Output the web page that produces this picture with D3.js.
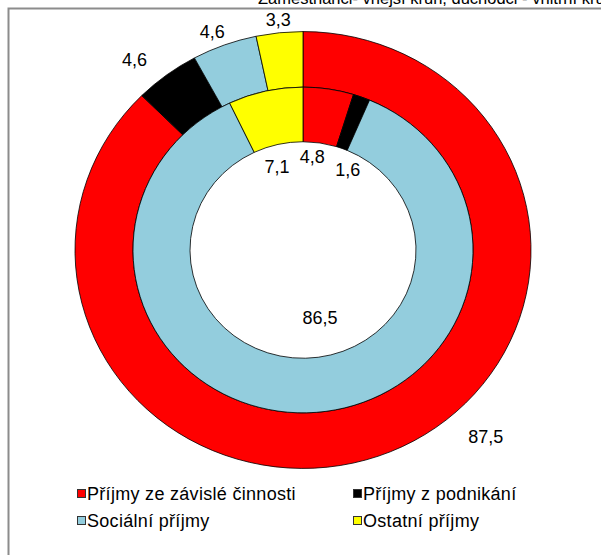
<!DOCTYPE html>
<html lang="cs">
<head>
<meta charset="UTF-8">
<title>Zaměstnanci- vnější kruh, důchodci - vnitřní kruh</title>
<script src="https://d3js.org/d3.v7.min.js"></script>
<style>
  body { margin: 0; background: #fff; }
  text { font-family: "Liberation Sans", Arial, sans-serif; fill: #000; }
</style>
</head>
<body>
<svg id="chart"></svg>
<script>
// data
const title = "Zaměstnanci- vnější kruh, důchodci - vnitřní kruh";
const categories = ["Příjmy ze závislé činnosti", "Příjmy z podnikání", "Sociální příjmy", "Ostatní příjmy"];
const outerValues = [87.5, 4.6, 4.6, 3.3];   // zaměstnanci
const innerValues = [4.8, 1.6, 86.5, 7.1];   // důchodci
const colors = ["#ff0000", "#000000", "#93cddd", "#ffff00"];

// layout
const W = 601, H = 555;
const cx = 303, cy = 250;
const squash = 0.958;           // chart is drawn slightly flattened
const rOuter = 228, rMid = 170, rHole = 113;
const fontSize = 18;
// label tweaks (Excel moved some labels around)
const outerNudge = [[91, -25], [-25, -6], [-8, -2], [0, -1]];
const innerNudge = [[-5, -3], [12, 5], [15, -23], [-5, 6]];

const fmt = v => d3.format(".1f")(v).replace(".", ",");

const svg = d3.select("#chart").attr("width", W).attr("height", H);

// plot frame (only top & left visible)
svg.append("rect")
  .attr("x", 8.5).attr("y", 8.5)
  .attr("width", 800).attr("height", 800)
  .attr("fill", "none").attr("stroke", "#8c8c8c").attr("stroke-width", 2);

// title, cut off at the top
svg.append("text")
  .attr("x", 258).attr("y", 4)
  .attr("font-size", 16.5)
  .text(title);

const pie = d3.pie().sort(null).value(d => d);
const color = d3.scaleOrdinal().domain(d3.range(categories.length)).range(colors);

const g = svg.append("g").attr("transform", `translate(${cx},${cy}) scale(1,${squash})`);

function ring(values, r0, r1) {
  const arc = d3.arc().innerRadius(r0).outerRadius(r1);
  g.append("g").selectAll("path")
    .data(pie(values))
    .join("path")
    .attr("d", arc)
    .attr("fill", (d, i) => color(i))
    .attr("stroke", "#000")
    .attr("stroke-width", 0.8)
    .attr("vector-effect", "non-scaling-stroke");
  return pie(values);
}

const outerArcs = ring(outerValues, rMid, rOuter);
const innerArcs = ring(innerValues, rHole, rMid);

function labels(arcs, r, nudge) {
  svg.append("g").selectAll("text")
    .data(arcs)
    .join("text")
    .attr("x", (d, i) => cx + r * Math.sin((d.startAngle + d.endAngle) / 2) + nudge[i][0])
    .attr("y", (d, i) => cy - squash * r * Math.cos((d.startAngle + d.endAngle) / 2) + nudge[i][1])
    .attr("text-anchor", "middle")
    .attr("dominant-baseline", "central")
    .attr("font-size", fontSize)
    .text(d => fmt(d.value));
}
labels(outerArcs, 240, outerNudge);
labels(innerArcs, 95, innerNudge);

// legend
const legX = [77, 353], legY = [494, 521];
const leg = svg.append("g").selectAll("g")
  .data(categories)
  .join("g")
  .attr("transform", (d, i) => `translate(${legX[i % 2]},${legY[Math.floor(i / 2)]})`);
leg.append("rect")
  .attr("x", 0.5).attr("y", -4.5)
  .attr("width", 8).attr("height", 8)
  .attr("fill", (d, i) => color(i))
  .attr("stroke", "#333").attr("stroke-width", 1);
leg.append("text")
  .attr("x", 10).attr("y", 0)
  .attr("dominant-baseline", "central")
  .attr("font-size", fontSize)
  .attr("letter-spacing", 0.3)
  .text(d => d);
</script>
</body>
</html>
